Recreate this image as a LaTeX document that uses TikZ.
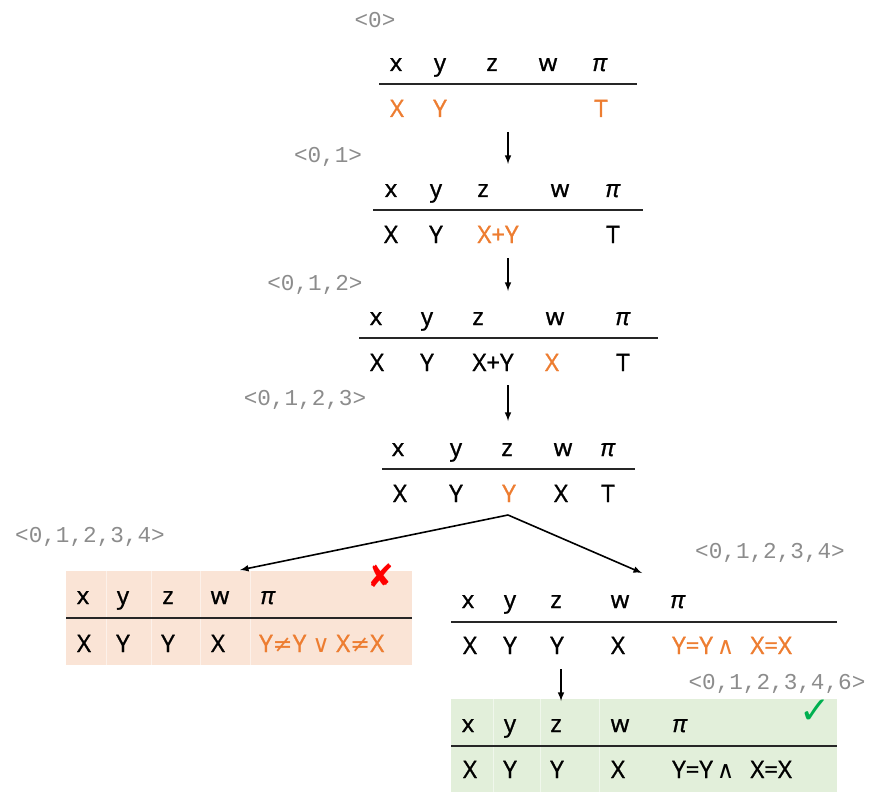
\documentclass[tikz,border=0pt]{standalone}
\usepackage{fontspec}
\setmainfont{Open Sans}[RawFeature={embolden=1.2}]
\setmonofont{Liberation Mono}
\newfontfamily\symfont{DejaVu Sans}
\usetikzlibrary{arrows, positioning}
\definecolor{hlorange}{RGB}{237,125,49}
\definecolor{failbg}{RGB}{250,228,214}
\definecolor{okbg}{RGB}{226,239,218}
\definecolor{okgreen}{RGB}{0,176,80}

\begin{document}
\begin{tikzpicture}[
    x=0.75pt, y=-0.75pt,
    cell/.style={anchor=base, inner sep=0pt, font=\fontsize{18}{21}\selectfont},
    fresh/.style={cell, text=hlorange},
    formula/.style={anchor=base west, inner sep=0pt, font=\fontsize{18}{21}\selectfont},
    trace/.style={anchor=base, inner sep=0pt, text=black!45, font=\ttfamily\fontsize{17}{20}\selectfont},
    rule/.style={draw, line width=1pt, black!85},
    sep/.style={draw, white, opacity=0.5, line width=0.6pt},
    flow/.style={-latex, line width=1.2pt}
]
    \useasboundingbox (0,0) rectangle (880,802);

    % Coloured backgrounds
    \fill[failbg] (66,571) rectangle (412,665);
    \fill[okbg] (451,699) rectangle (837,792);
    \foreach \sx in {106, 151, 200, 250}
        \draw[sep] (\sx,571) -- (\sx,665);
    \foreach \sx in {493, 540, 599}
        \draw[sep] (\sx,699) -- (\sx,792);

    % Table 0
    \node[trace] (l0) at (375,28) {<0>};
    \foreach \h/\px [count=\i] in {x/396, y/440, z/492, w/548, \textit{π}/600}
        \node[cell] (t0h\i) at (\px,71) {\h};
    \draw[rule] (379,84) -- (637,84);
    \node[fresh] (t0v1) at (397,117) {X};
    \node[fresh] (t0v2) at (440,117) {Y};
    \node[fresh] (t0v5) at (601,117) {T};

    % Table 1
    \node[trace] (l1) at (328,163) {<0,1>};
    \foreach \h/\px [count=\i] in {x/391, y/436, z/483, w/560, \textit{π}/613}
        \node[cell] (t1h\i) at (\px,197) {\h};
    \draw[rule] (373,210) -- (643,210);
    \node[cell] (t1v1) at (391,243) {X};
    \node[cell] (t1v2) at (436,243) {Y};
    \node[fresh] (t1v3) at (498,243) {X+Y};
    \node[cell] (t1v5) at (613,243) {T};

    % Table 2
    \node[trace] (l2) at (315,290) {<0,1,2>};
    \foreach \h/\px [count=\i] in {x/376, y/427, z/478, w/555, \textit{π}/623}
        \node[cell] (t2h\i) at (\px,325) {\h};
    \draw[rule] (359,338) -- (658,338);
    \node[cell] (t2v1) at (377,371) {X};
    \node[cell] (t2v2) at (427,371) {Y};
    \node[cell] (t2v3) at (493,371) {X+Y};
    \node[fresh] (t2v4) at (552,371) {X};
    \node[cell] (t2v5) at (623,371) {T};

    % Table 3
    \node[trace] (l3) at (305,405) {<0,1,2,3>};
    \foreach \h/\px [count=\i] in {x/398, y/456, z/507, w/563, \textit{π}/608}
        \node[cell] (t3h\i) at (\px,456) {\h};
    \draw[rule] (382,469) -- (635,469);
    \node[cell] (t3v1) at (400,502) {X};
    \node[cell] (t3v2) at (456,502) {Y};
    \node[fresh] (t3v3) at (509,502) {Y};
    \node[cell] (t3v4) at (561,502) {X};
    \node[cell] (t3v5) at (608,502) {T};

    % Failed branch
    \node[trace] (l4a) at (90,542) {<0,1,2,3,4>};
    \foreach \h/\px [count=\i] in {x/83, y/123, z/168, w/220, \textit{π}/268}
        \node[cell] (fbh\i) at (\px,604) {\h};
    \draw[rule] (66,618) -- (412,618);
    \node[cell] (fbv1) at (84,652) {X};
    \node[cell] (fbv2) at (123,652) {Y};
    \node[cell] (fbv3) at (168,652) {Y};
    \node[cell] (fbv4) at (218,652) {X};
    \node[formula, text=hlorange] (fbpi) at (259,652) {Y{\symfont ≠}Y {\symfont ∨} X{\symfont ≠}X};
    \node[text=red, font=\symfont\fontsize{24}{24}\selectfont, inner sep=0pt] (cross) at (381,576) {✘};

    % Taken branch
    \node[trace] (l4b) at (770,558) {<0,1,2,3,4>};
    \foreach \h/\px [count=\i] in {x/468, y/510, z/556, w/620, \textit{π}/678}
        \node[cell] (tbh\i) at (\px,608) {\h};
    \draw[rule] (451,622) -- (837,622);
    \node[cell] (tbv1) at (470,654) {X};
    \node[cell] (tbv2) at (510,654) {Y};
    \node[cell] (tbv3) at (557,654) {Y};
    \node[cell] (tbv4) at (618,654) {X};
    \node[formula, text=hlorange] (tbpi) at (672,654) {Y=Y\hspace{3pt}{\symfont ∧}\hspace{12pt}X=X};

    % Final state
    \node[trace] (l5) at (777,689) {<0,1,2,3,4,6>};
    \foreach \h/\px [count=\i] in {x/468, y/510, z/556, w/620, \textit{π}/680}
        \node[cell] (okh\i) at (\px,732) {\h};
    \draw[rule] (451,746) -- (837,746);
    \node[cell] (okv1) at (470,778) {X};
    \node[cell] (okv2) at (510,778) {Y};
    \node[cell] (okv3) at (557,778) {Y};
    \node[cell] (okv4) at (618,778) {X};
    \node[formula] (okpi) at (672,778) {Y=Y\hspace{3pt}{\symfont ∧}\hspace{12pt}X=X};
    \node[text=okgreen, font=\symfont\fontsize{28}{28}\selectfont, inner sep=0pt] (tick) at (815,712) {✓};

    % Edges
    \coordinate (t0out) at (508,132);
    \coordinate (t1in) at (508,164);
    \coordinate (t1out) at (508,258);
    \coordinate (t2in) at (508,291);
    \coordinate (t2out) at (508,385);
    \coordinate (t3in) at (508,421);
    \coordinate (t3out) at (508,515);
    \coordinate (fbin) at (240,570);
    \coordinate (tbin) at (642,573);
    \coordinate (tbout) at (561,669);
    \coordinate (okin) at (561,701);
    \draw[flow] (t0out) -- (t1in);
    \draw[flow] (t1out) -- (t2in);
    \draw[flow] (t2out) -- (t3in);
    \draw[flow] (t3out) -- (fbin);
    \draw[flow] (t3out) -- (tbin);
    \draw[flow] (tbout) -- (okin);
\end{tikzpicture}
\end{document}
